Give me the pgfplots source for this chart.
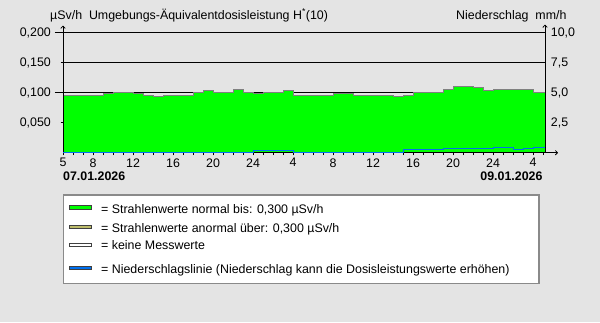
\documentclass[border=0pt]{standalone}
\usepackage{pgfplots}
\pgfplotsset{compat=1.18}
\usepackage{pgfplotstable}
\usepackage{fontspec}
\setmainfont{Liberation Sans}
\usetikzlibrary{arrows.meta}
\definecolor{bg}{HTML}{E4E4E4}
\definecolor{grn}{HTML}{00FF00}
\definecolor{olv}{HTML}{BDBD6B}
\definecolor{blu}{HTML}{0070F0}
\definecolor{outl}{HTML}{808080}
\definecolor{boxb}{HTML}{8A8A8A}
\newcommand\f{\fontsize{12.4bp}{14bp}\selectfont}

\pgfplotstableread{
h dose
5 0.095
6 0.096
8 0.095
9 0.098
10 0.0995
12 0.098
13 0.095
14 0.0933
15 0.095
16 0.096
18 0.101
19 0.103
20 0.0995
22 0.1045
23 0.101
24 0.098
25 0.101
27 0.103
28 0.096
32 0.098
34 0.096
37 0.095
38 0.0933
39 0.095
40 0.101
41 0.0995
42 0.101
43 0.1045
44 0.1095
46 0.108
47 0.103
48 0.106
49 0.1045
52 0.0995
53.2 0.0995
}\dosetable

\pgfplotstableread{
h rain
5 0
24 0.22
28 0
39 0.25
43 0.33
48 0.42
50 0.29
51 0.37
52 0.45
53.2 0.45
}\raintable

\pgfplotsset{myax/.style={at={(63bp,169.3bp)}, anchor=south west, scale only axis,
  width=482bp, height=120bp, xmin=5, xmax=53.2,
  /pgf/number format/assume math mode=true,
  every tick label/.append style={font=\f}}}

\begin{document}
\begin{tikzpicture}[x=1bp,y=1bp]
\fill[bg] (0,0) rectangle (600,322);
% axis A: grid and dose area
\begin{axis}[myax, ymin=0, ymax=0.2,
  axis x line=bottom, axis y line=left, axis line style={draw=none},
  xtick=\empty, ytick={0.05,0.1,0.15,0.2}, yticklabels={}, major tick length=0pt,
  ymajorgrids, grid style={black, line width=0.8bp}]
\addplot[const plot, fill=grn, draw=none] table[x=h,y=dose]{\dosetable} \closedcycle;
\addplot[const plot, draw=outl, line width=1bp] table[x=h,y=dose]{\dosetable};
\end{axis}
% axis B: left and bottom axes
\begin{axis}[myax, ymin=0, ymax=0.2,
  axis x line=bottom, axis y line=left,
  axis line style={black, line width=0.8bp},
  x axis line style={-{To[length=3bp,width=5bp]}, shorten >=-13bp},
  y axis line style={-{To[length=3bp,width=5bp]}, shorten >=-7bp},
  tick style={black, line width=0.8bp}, tick align=outside,
  major tick length=2.5bp, minor tick length=2.5bp,
  xtick={5,8,12,16,20,24,28,32,36,40,44,48,52},
  xticklabels={5,8,12,16,20,24,4,8,12,16,20,24,4},
  minor xtick={5,6,...,53},
  ytick={0.05,0.1,0.15,0.2},
  extra y ticks={0.1,0.2}, extra y tick labels={},
  extra y tick style={major tick length=8bp},
  yticklabel style={/pgf/number format/fixed, /pgf/number format/fixed zerofill,
     /pgf/number format/precision=3, /pgf/number format/use comma,
     anchor=east, inner sep=0pt, xshift=-9.5bp},
  xticklabel style={anchor=north, inner sep=0pt, yshift=-3bp}]
\end{axis}
% axis C: precipitation
\begin{axis}[myax, ymin=0, ymax=10,
  axis x line=none, axis y line=right,
  axis line style={black, line width=0.8bp},
  y axis line style={-{To[length=3bp,width=5bp]}, shorten >=-8bp},
  ytick={2.5,5,7.5,10}, major tick length=0pt,
  yticklabel style={/pgf/number format/fixed, /pgf/number format/fixed zerofill,
     /pgf/number format/precision=1, /pgf/number format/use comma,
     anchor=west, inner sep=0pt, xshift=5.7bp}]
\addplot[const plot, draw=blu, line width=1bp] table[x=h,y=rain]{\raintable};
\end{axis}
% titles
\node[anchor=base west, inner sep=0pt, font=\f] at (50,302.7) {µSv/h\ \ Umgebungs-Äquivalentdosisleistung H\textsuperscript{*}(10)};
\node[anchor=base east, inner sep=0pt, font=\f] at (566.7,302.7) {Niederschlag\ \ mm/h};
\node[anchor=base west, inner sep=0pt, font=\f\bfseries] at (63,141.5) {07.01.2026};
\node[anchor=base east, inner sep=0pt, font=\f\bfseries] at (542.7,141.5) {09.01.2026};
% legend box
\draw[draw=boxb, fill=white, line width=1.5bp] (63.3,38.7) rectangle (539,127);
\draw[fill=grn, draw=black!75, line width=0.8bp] (69.5,113) rectangle (91,116.4);
\draw[fill=olv, draw=black!75, line width=0.8bp] (69.5,93.6) rectangle (91,97);
\draw[fill=white, draw=black!75, line width=0.8bp] (69.5,75.6) rectangle (91,79);
\draw[fill=blu, draw=black!75, line width=0.8bp] (69.5,52.3) rectangle (91,55.7);
\node[anchor=base west, inner sep=0pt, font=\f] at (101,108.7) {= Strahlenwerte normal bis: 0,300 µSv/h};
\node[anchor=base west, inner sep=0pt, font=\f] at (101,89.7) {= Strahlenwerte anormal über: 0,300 µSv/h};
\node[anchor=base west, inner sep=0pt, font=\f] at (101,73) {= keine Messwerte};
\node[anchor=base west, inner sep=0pt, font=\f] at (101,48.7) {= Niederschlagslinie (Niederschlag kann die Dosisleistungswerte erhöhen)};
\pgfresetboundingbox
\path (0,0) rectangle (600,322);
\end{tikzpicture}
\end{document}
